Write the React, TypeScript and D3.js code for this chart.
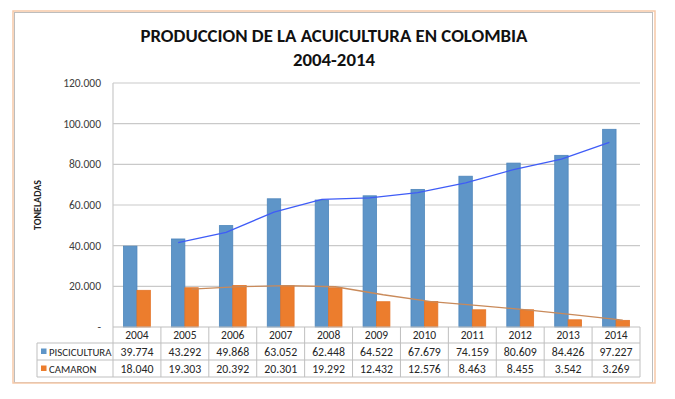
import React, { useEffect, useRef } from 'react';
import * as d3 from 'd3';

const YEARS = ['2004', '2005', '2006', '2007', '2008', '2009', '2010', '2011', '2012', '2013', '2014'];
const PISCICULTURA = [39774, 43292, 49868, 63052, 62448, 64522, 67679, 74159, 80609, 84426, 97227];
const CAMARON = [18040, 19303, 20392, 20301, 19292, 12432, 12576, 8463, 8455, 3542, 3269];
const Y_TICKS = [0, 20000, 40000, 60000, 80000, 100000, 120000];

const SERIES = [
  { name: 'PISCICULTURA', values: PISCICULTURA, fill: '#5e95c8', stroke: '#4d85bb', trend: '#3f5cf7' },
  { name: 'CAMARON', values: CAMARON, fill: '#ec7d2d', stroke: '#e47428', trend: '#c98a5a' },
];

const FONT = "Carlito, 'Open Sans', sans-serif";
const W = 675;
const H = 399;

const locale = d3.formatLocale({ decimal: ',', thousands: '.', grouping: [3], currency: ['', ''] });
const fmt = locale.format(',');

// moving average, period 2 (like Excel's trendline)
const movingAvg = (vals: number[]) => vals.slice(1).map((v, i) => ({ i: i + 1, v: (v + vals[i]) / 2 }));

const App: React.FC = () => {
  const svgRef = useRef<SVGSVGElement>(null);

  useEffect(() => {
    if (!svgRef.current) return;
    const svg = d3.select(svgRef.current);
    svg.selectAll('*').remove();

    const left = 113;
    const right = 640;
    const top = 83;
    const bottom = 327;

    const x = d3.scaleBand().domain(YEARS).range([left, right]).padding(0);
    const y = d3.scaleLinear().domain([0, 120000]).range([bottom, top]);
    const barW = x.bandwidth() * 0.28;

    // outer frame
    svg.append('rect')
      .attr('x', 14.5).attr('y', 12.5).attr('width', 638).attr('height', 370)
      .attr('fill', 'none').attr('stroke', '#bdbdbd').attr('stroke-width', 1);
    svg.append('rect')
      .attr('x', 13).attr('y', 11).attr('width', 642).attr('height', 372)
      .attr('fill', 'none').attr('stroke', '#f6c9a8').attr('stroke-width', 1.5);

    // title
    const title = svg.append('text')
      .attr('x', 334).attr('text-anchor', 'middle')
      .attr('font-family', FONT).attr('font-weight', 'bold').attr('font-size', 18.8).attr('fill', '#111');
    title.append('tspan').attr('x', 334).attr('y', 42).text('PRODUCCION DE LA ACUICULTURA EN COLOMBIA');
    title.append('tspan').attr('x', 334).attr('y', 66).text('2004-2014');

    // gridlines
    svg.append('g').selectAll('line').data(Y_TICKS.slice(1)).join('line')
      .attr('x1', left).attr('x2', right)
      .attr('y1', (d) => y(d)).attr('y2', (d) => y(d))
      .attr('stroke', '#c9c9c9').attr('stroke-width', 1.2);

    svg.append('line').attr('x1', left).attr('x2', left).attr('y1', top).attr('y2', bottom)
      .attr('stroke', '#c9c9c9').attr('stroke-width', 1.2);

    // y tick labels
    svg.append('g').selectAll('text').data(Y_TICKS).join('text')
      .attr('x', 101).attr('y', (d) => y(d) + 4)
      .attr('text-anchor', 'end')
      .attr('font-family', FONT).attr('font-size', 11.5).attr('fill', '#404040')
      .text((d) => (d === 0 ? '-' : fmt(d)));

    svg.append('text')
      .attr('transform', 'translate(41,205) rotate(-90)')
      .attr('text-anchor', 'middle')
      .attr('font-family', FONT).attr('font-weight', 'bold').attr('font-size', 10).attr('fill', '#222')
      .text('TONELADAS');

    // bars
    SERIES.forEach((s, si) => {
      svg.append('g').selectAll('rect').data(s.values).join('rect')
        .attr('x', (_, i) => (x(YEARS[i]) ?? 0) + x.bandwidth() / 2 - barW + si * barW)
        .attr('y', (d) => y(d))
        .attr('width', barW)
        .attr('height', (d) => bottom - y(d))
        .attr('fill', s.fill)
        .attr('stroke', s.stroke).attr('stroke-width', 0.8);
    });

    // trendlines
    SERIES.forEach((s, si) => {
      const line = d3.line<{ i: number; v: number }>()
        .x((d) => (x(YEARS[d.i]) ?? 0) + x.bandwidth() / 2 - barW / 2 + si * barW)
        .y((d) => y(d.v));
      svg.append('path')
        .attr('d', line(movingAvg(s.values)) ?? '')
        .attr('fill', 'none').attr('stroke', s.trend).attr('stroke-width', 1.3);
    });

    // data table
    const rowY = [327, 343, 360, 377];
    const legLeft = 37;
    const grid = '#bfbfbf';
    const tbl = svg.append('g');
    tbl.append('line').attr('x1', left).attr('x2', right).attr('y1', rowY[0]).attr('y2', rowY[0]).attr('stroke', grid);
    [1, 2, 3].forEach((r) => {
      tbl.append('line').attr('x1', legLeft).attr('x2', right).attr('y1', rowY[r]).attr('y2', rowY[r]).attr('stroke', grid);
    });
    tbl.append('line').attr('x1', legLeft).attr('x2', legLeft).attr('y1', rowY[1]).attr('y2', rowY[3]).attr('stroke', grid);
    [...YEARS.map((yr) => x(yr) ?? 0), right].forEach((cx) => {
      tbl.append('line').attr('x1', cx).attr('x2', cx).attr('y1', rowY[0]).attr('y2', rowY[3]).attr('stroke', grid);
    });

    tbl.selectAll('text.yr').data(YEARS).join('text').attr('class', 'yr')
      .attr('x', (d) => (x(d) ?? 0) + x.bandwidth() / 2)
      .attr('y', (rowY[0] + rowY[1]) / 2 + 4)
      .attr('text-anchor', 'middle')
      .attr('font-family', FONT).attr('font-size', 11.5).attr('fill', '#262626')
      .text((d) => d);

    SERIES.forEach((s, si) => {
      const cy = (rowY[si + 1] + rowY[si + 2]) / 2;
      tbl.append('rect').attr('x', 41).attr('y', cy - 3).attr('width', 5.5).attr('height', 5.5).attr('fill', s.fill);
      tbl.append('text').attr('x', 49).attr('y', cy + 4)
        .attr('font-family', FONT).attr('font-size', 10.8).attr('fill', '#262626')
        .text(s.name);
      tbl.append('g').selectAll('text').data(s.values).join('text')
        .attr('x', (_, i) => (x(YEARS[i]) ?? 0) + x.bandwidth() / 2)
        .attr('y', cy + 4)
        .attr('text-anchor', 'middle')
        .attr('font-family', FONT).attr('font-size', 11.8).attr('fill', '#262626')
        .text((d) => fmt(d));
    });
  }, []);

  return (
    <div style={{ position: 'absolute', left: 0, top: 0, width: W, height: H, background: '#fff' }}>
      <svg ref={svgRef} width={W} height={H} />
    </div>
  );
};

export default App;
